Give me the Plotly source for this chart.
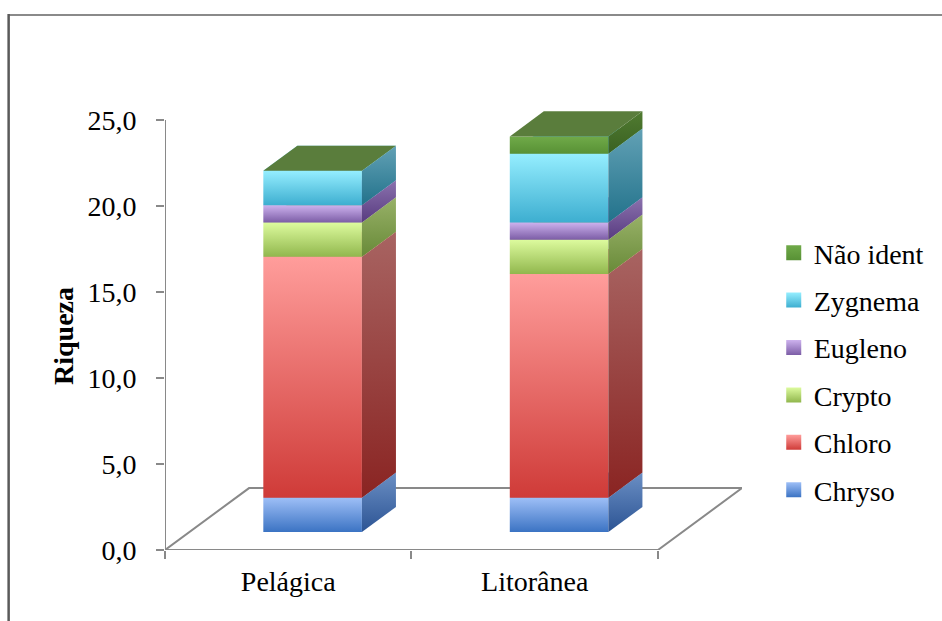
import plotly.graph_objects as go

# ---- data -----------------------------------------------------------------
categories = ["Pelágica", "Litorânea"]
series_names = ["Chryso", "Chloro", "Crypto", "Eugleno", "Zygnema", "Não ident"]
chryso = [2, 2]
chloro = [14, 13]
crypto = [2, 2]
eugleno = [1, 1]
zygnema = [2, 4]
nao_ident = [0, 1]
y_ticks = [0, 5, 10, 15, 20, 25]

series_values = [chryso, chloro, crypto, eugleno, zygnema, nao_ident]

# face colours per series: front (top, bottom), side (top, bottom), top face
palette = {
    "Chryso":    dict(ft="#9ebff7", fb="#3b73c3", st="#6b8fc4", sb="#2c5494", tp="#7fa2dc"),
    "Chloro":    dict(ft="#ff9d9b", fb="#cf3b38", st="#a86462", sb="#8a2422", tp="#e37c7a"),
    "Crypto":    dict(ft="#ddfb9e", fb="#91b74d", st="#98b168", sb="#688a38", tp="#b9d67a"),
    "Eugleno":   dict(ft="#cdb2ee", fb="#7c5da6", st="#8b72ae", sb="#583b80", tp="#a98bcf"),
    "Zygnema":   dict(ft="#95eeff", fb="#3daed0", st="#62a1b5", sb="#22728b", tp="#6cd0ea"),
    "Não ident": dict(ft="#70aa49", fb="#589135", st="#507b31", sb="#3a6121", tp="#5a7d3c"),
}

# ---- 3-D projection settings (axis units) ---------------------------------
BAR_W = 0.40          # width of a bar's front face
FLOOR_DX = 0.341      # horizontal shift of the floor's back edge
FLOOR_DY = 3.6        # vertical shift of the floor's back edge
FRONT_DEPTH = 0.29    # depth of the bars' front face (fraction of floor depth)
BAR_DEPTH = 0.405     # depth of the bars (fraction of floor depth)
Y_MAX = 26.744

FONT = "Liberation Serif, Times New Roman, serif"
FONT_SIZE = 28
GRID_GREY = "#898989"

fig = go.Figure()


def add_face(xs, ys, c_top, c_bottom, name, text):
    fig.add_trace(go.Scatter(
        x=xs + [xs[0]], y=ys + [ys[0]],
        mode="lines", fill="toself", line=dict(width=0),
        fillcolor=c_bottom,
        fillgradient=dict(type="vertical", colorscale=[[0, c_bottom], [1, c_top]]),
        name=name, legendgroup=name, showlegend=False,
        hoverinfo="text", text=text, hoveron="fills",
    ))


ox_shift = FRONT_DEPTH * FLOOR_DX
oy = FRONT_DEPTH * FLOOR_DY
ddx = BAR_DEPTH * FLOOR_DX
ddy = BAR_DEPTH * FLOOR_DY

for i, cat in enumerate(categories):
    cx = i + ox_shift
    x0, x1 = cx - BAR_W / 2, cx + BAR_W / 2
    lo = 0.0
    for name, vals in zip(series_names, series_values):
        v = vals[i]
        hi = lo + v
        c = palette[name]
        label = f"{cat}<br>{name}: {v:.1f}".replace(".", ",")
        if v > 0:
            # front face
            add_face([x0, x1, x1, x0],
                     [lo + oy, lo + oy, hi + oy, hi + oy],
                     c["ft"], c["fb"], name, label)
            # right side face
            add_face([x1, x1 + ddx, x1 + ddx, x1],
                     [lo + oy, lo + oy + ddy, hi + oy + ddy, hi + oy],
                     c["st"], c["sb"], name, label)
        # top face (drawn even for empty segments, like the stacked 3-D column)
        add_face([x0, x1, x1 + ddx, x0 + ddx],
                 [hi + oy, hi + oy, hi + oy + ddy, hi + oy + ddy],
                 c["tp"], c["tp"], name, label)
        lo = hi

# legend entries, top of the stack listed first
for name in reversed(series_names):
    c = palette[name]
    fig.add_trace(go.Scatter(
        x=[None], y=[None], mode="markers", name=name, legendgroup=name,
        marker=dict(symbol="square", size=15, color=c["ft"],
                    gradient=dict(type="vertical", color=c["fb"]),
                    line=dict(width=0)),
    ))

# floor outline and value axis line
x_left, x_right = -0.5, len(categories) - 0.5
shapes = [
    dict(type="path", xref="x", yref="y", layer="below",
         path=(f"M{x_left},0 L{x_right},0 L{x_right + FLOOR_DX},{FLOOR_DY} "
               f"L{x_left + FLOOR_DX},{FLOOR_DY} Z"),
         line=dict(color=GRID_GREY, width=2)),
    dict(type="line", xref="x", yref="y", layer="below",
         x0=x_left, x1=x_left, y0=0, y1=y_ticks[-1],
         line=dict(color=GRID_GREY, width=2)),
    # chart frame
    dict(type="line", xref="paper", yref="paper",
         x0=-0.272, x1=1.36, y0=1.163, y1=1.163,
         line=dict(color="#8a8a8a", width=2)),
    dict(type="line", xref="paper", yref="paper",
         x0=-0.271, x1=-0.271, y0=1.165, y1=-0.2,
         line=dict(color="#5a5a5a", width=2.5)),
]

fig.update_layout(
    width=942, height=621,
    margin=dict(l=165, r=200, t=90, b=71),
    paper_bgcolor="white", plot_bgcolor="white",
    font=dict(family=FONT, size=FONT_SIZE, color="black"),
    separators=",.",
    shapes=shapes,
    showlegend=True,
    legend=dict(
        x=1.055, xanchor="left", y=0.70, yanchor="top",
        traceorder="grouped", tracegroupgap=8,
        font=dict(family=FONT, size=FONT_SIZE, color="black"),
        bgcolor="rgba(0,0,0,0)",
    ),
    annotations=[dict(
        text="<b>Riqueza</b>", textangle=-90, showarrow=False,
        xref="paper", yref="paper", x=-0.177, y=0.465,
        xanchor="center", yanchor="middle",
        font=dict(family=FONT, size=FONT_SIZE, color="black"),
    )],
)

fig.update_xaxes(
    range=[x_left, x_right + FLOOR_DX],
    tickvals=list(range(len(categories))), ticktext=categories,
    ticks="", showgrid=False, zeroline=False, showline=False,
    ticklabelstandoff=12,
    minor=dict(tickvals=[x_left + k for k in range(len(categories) + 1)],
               ticks="outside", ticklen=8, tickcolor=GRID_GREY, tickwidth=1.5,
               showgrid=False),
    fixedrange=True,
)
fig.update_yaxes(
    range=[0, Y_MAX], tickvals=y_ticks, tickformat=".1f",
    ticks="outside", ticklen=8, tickcolor=GRID_GREY, tickwidth=1.5,
    ticklabelstandoff=14,
    showgrid=False, zeroline=False, showline=False,
    fixedrange=True,
)

fig.write_html("out.html")
